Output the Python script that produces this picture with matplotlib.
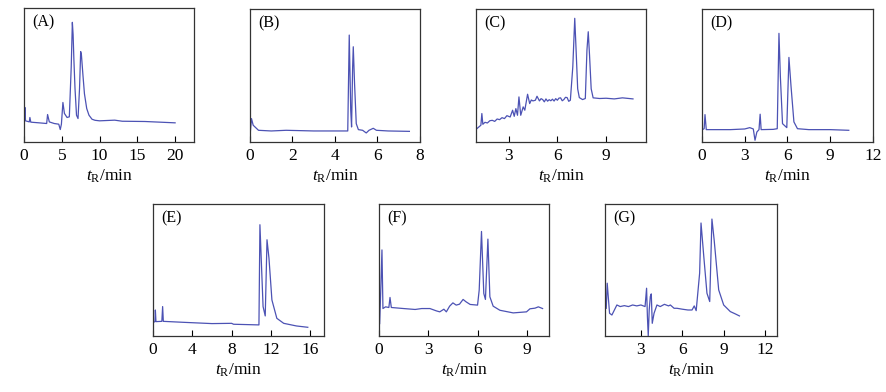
import matplotlib
matplotlib.use('Agg')
import matplotlib.pyplot as plt


plt.rcParams['font.family'] = ['Liberation Serif', 'DejaVu Serif']
plt.rcParams['mathtext.fontset'] = 'custom'
plt.rcParams['mathtext.rm'] = 'Liberation Serif'
plt.rcParams['mathtext.it'] = 'Liberation Serif:italic'

LINE = '#4c52b4'

# chromatograms: retention time (min) and detector signal (a.u., 0-100 of the frame)
t_a = [0.08, 0.12, 0.2, 0.7, 0.78, 0.9, 2.0, 3.0, 3.12, 3.35, 4.0, 4.6, 4.8, 4.95,
       5.15, 5.35, 5.7, 6.0, 6.25, 6.4, 6.5, 6.6, 6.75, 6.95, 7.15, 7.35, 7.5, 7.6,
       7.8, 8.0, 8.3, 8.6, 9.0, 9.4, 10.0, 12.0, 13.0, 16.0, 20.0]
s_a = [16.3, 25.8, 15.8, 15.0, 18.3, 14.8, 14.3, 13.8, 20.5, 15.0, 13.8, 13.3, 9.3, 13.3,
       29.5, 21.3, 18.3, 18.8, 56.0, 89.3, 80.0, 62.0, 40.0, 20.0, 17.5, 40.0, 67.5, 65.0,
       50.0, 36.0, 25.0, 20.0, 17.0, 16.2, 15.8, 16.3, 15.5, 15.3, 14.3]

t_b = [0.02, 0.07, 0.15, 0.4, 1.0, 1.7, 3.0, 4.6, 4.67, 4.74, 4.78, 4.83, 4.86,
       4.92, 5.0, 5.1, 5.3, 5.47, 5.6, 5.8, 5.95, 6.5, 7.5]
s_b = [8.3, 17.6, 12.6, 8.8, 8.3, 8.8, 8.3, 8.3, 80.4, 23.9, 11.3, 56.5, 71.6,
       44.0, 13.8, 9.3, 8.8, 6.8, 8.8, 10.3, 8.8, 8.3, 8.0]

t_c = [1.05, 1.3, 1.36, 1.42, 1.55, 1.7, 1.85, 2.0, 2.15, 2.3, 2.45, 2.6, 2.75, 2.9,
       3.1, 3.25, 3.35, 3.45, 3.55, 3.64, 3.75, 3.9, 4.0, 4.17, 4.3, 4.4, 4.5,
       4.65, 4.75, 4.9, 5.0, 5.1, 5.2, 5.3, 5.4, 5.5, 5.6, 5.7, 5.8, 5.9, 6.0,
       6.1, 6.2, 6.3, 6.4, 6.5, 6.6, 6.7, 6.8, 6.95, 7.07, 7.15, 7.25, 7.35, 7.55, 7.72,
       7.82, 7.9, 7.98, 8.08, 8.2, 8.6, 9.0, 9.5, 10.0, 10.65]
s_c = [10.0, 12.6, 21.4, 13.3, 14.8, 14.3, 16.0, 16.3, 15.5, 17.3, 16.8, 18.3, 17.6, 19.8,
       18.8, 23.9, 19.3, 25.1, 20.1, 33.9, 20.1, 26.4, 23.9, 35.9, 28.9, 31.6, 30.9,
       31.4, 34.4, 30.9, 32.6, 31.9, 30.2, 32.4, 30.7, 31.8, 31.0, 32.2, 30.8, 32.6, 31.4,
       33.0, 33.2, 31.0, 31.9, 33.6, 33.4, 30.6, 31.4, 56.5, 93.0, 70.0, 40.0, 33.4, 31.9, 32.7,
       69.1, 82.9, 65.0, 40.0, 33.2, 32.7, 32.9, 32.4, 33.2, 32.4]

t_d = [0.02, 0.15, 0.21, 0.3, 1.0, 2.0, 3.0, 3.35, 3.6, 3.72, 3.85, 4.0, 4.08, 4.15,
       5.0, 5.28, 5.4, 5.5, 5.65, 5.95, 6.1, 6.25, 6.45, 6.7, 7.5, 9.0, 10.3]
s_d = [9.3, 10.0, 20.6, 9.3, 9.3, 9.3, 9.8, 10.8, 9.8, 1.3, 7.5, 9.3, 20.9, 9.3,
       9.5, 10.0, 81.7, 49.0, 13.8, 10.8, 63.6, 41.5, 15.1, 10.0, 9.3, 9.3, 8.8]

t_e = [0.05, 0.2, 0.24, 0.3, 0.9, 0.98, 1.05, 3.0, 6.0, 8.0, 8.2, 10.78, 10.88,
       11.2, 11.42, 11.6, 11.8, 12.1, 12.6, 13.3, 14.6, 15.75]
s_e = [10.4, 10.9, 19.7, 10.9, 11.1, 22.3, 11.1, 10.4, 9.4, 9.6, 8.9, 8.4, 84.3,
       22.3, 15.2, 72.9, 59.0, 27.3, 13.4, 9.6, 7.6, 6.6]

t_f = [0.04, 0.12, 0.18, 0.24, 0.4, 0.6, 0.67, 0.75, 1.5, 2.2, 2.6, 3.1, 3.5, 3.7,
       3.95, 4.1, 4.3, 4.5, 4.7, 4.9, 5.12, 5.3, 5.55, 6.0, 6.1, 6.24, 6.38, 6.48,
       6.63, 6.75, 6.95, 7.36, 8.17, 8.98, 9.19, 9.5, 9.7, 9.96]
s_f = [9.4, 39.8, 65.2, 20.8, 22.1, 21.6, 29.2, 21.6, 20.8, 20.1, 20.8, 20.8, 19.0, 18.3,
       20.3, 18.3, 22.6, 25.1, 23.4, 24.1, 27.7, 25.9, 23.9, 23.4, 34.8, 79.2, 32.2, 27.7,
       73.4, 29.7, 22.6, 19.5, 17.5, 18.3, 20.6, 21.1, 22.1, 20.8]

t_g = [0.49, 0.56, 0.73, 0.9, 1.26, 1.5, 1.8, 2.1, 2.4, 2.7, 3.0, 3.3, 3.41, 3.47,
       3.53, 3.6, 3.68, 3.75, 3.82, 3.95, 4.16, 4.4, 4.7, 5.0, 5.13, 5.4, 5.61, 6.0,
       6.4, 6.7, 6.86, 7.0, 7.25, 7.35, 7.55, 7.78, 7.98, 8.14, 8.3, 8.63, 8.99,
       9.47, 9.84, 10.13]
s_g = [21.0, 40.0, 17.2, 15.9, 23.5, 22.3, 23.0, 22.3, 23.5, 22.8, 23.5, 22.3, 36.2, 14.7,
       0.0, 19.7, 29.9, 31.9, 9.6, 17.2, 23.5, 22.3, 24.0, 22.8, 23.5, 21.0, 21.0, 20.3,
       19.7, 19.7, 22.8, 19.2, 47.6, 85.6, 60.3, 32.4, 26.1, 88.6, 72.9, 34.9, 23.5,
       18.5, 16.7, 15.2]

labels = ['(A)', '(B)', '(C)', '(D)', '(E)', '(F)', '(G)']
traces = [(t_a, s_a), (t_b, s_b), (t_c, s_c), (t_d, s_d), (t_e, s_e), (t_f, s_f), (t_g, s_g)]
ticks = [[0, 5, 10, 15, 20], [0, 2, 4, 6, 8], [3, 6, 9], [0, 3, 6, 9, 12],
         [0, 4, 8, 12, 16], [0, 3, 6, 9], [3, 6, 9, 12]]
xlims = [(0, 22.5), (0, 8), (1.0, 11.45), (0, 12), (0, 17.4), (0, 10.35), (0.4, 12.85)]

# axes boxes in figure pixels: left, top, right, bottom
W, H = 887, 392
boxes = [(24, 8, 194, 142), (250, 9, 420, 142), (476, 9, 646, 142), (702, 9, 873, 142),
         (153, 204, 324, 336), (379, 204, 549, 336), (605, 204, 777, 336)]

fig = plt.figure(figsize=(W / 100, H / 100), dpi=100)

for i in range(7):
  l, t, r, b = boxes[i]
  ax = fig.add_axes([l / W, 1 - b / H, (r - l) / W, (b - t) / H])
  x, y = traces[i]
  ax.plot(x, y, color=LINE, lw=0.9)
  ax.set_xlim(*xlims[i])
  ax.set_ylim(0, 100)
  ax.set_xticks(ticks[i])
  ax.set_yticks([])
  ax.tick_params(axis='x', direction='in', length=4, width=0.8, pad=4,
                 labelsize=12.5, top=False)
  for sp in ax.spines.values():
    sp.set_linewidth(0.9)
    sp.set_color('#333333')
  ax.set_xlabel(r'$t_{\mathrm{R}}$/min', fontsize=12.5, labelpad=3)
  ax.text(0.047, 0.89, labels[i], transform=ax.transAxes, fontsize=11.5,
          ha='left', va='center')

fig.savefig('out.png', dpi=100)
